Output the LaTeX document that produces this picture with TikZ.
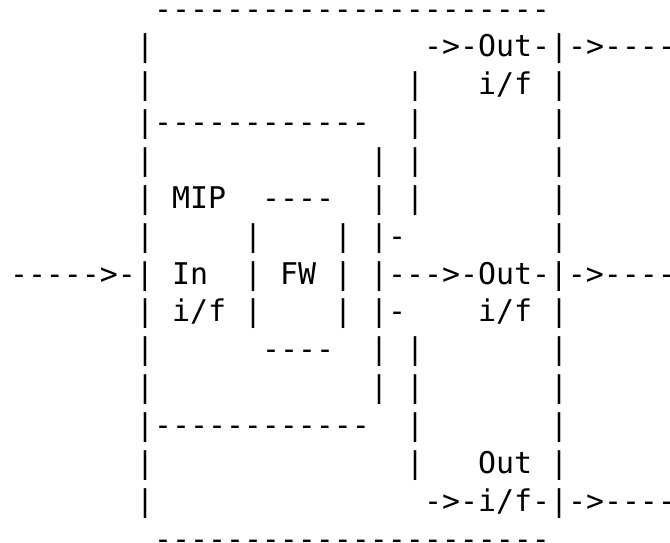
\documentclass[tikz,border=0pt]{standalone}
\usepackage{fontspec}
\setmonofont{DejaVu Sans Mono}
\tikzset{
  txt/.style={inner sep=0pt, outer sep=0pt, anchor=base west,
    font=\ttfamily\fontsize{29.9pt}{36pt}\selectfont, text=black}
}
\newcommand\seg[3]{\node[txt] (r#1c#2) at ({10+18*#2},{-(19+(#1-1)*37.86)}) {#3};}
\begin{document}
\begin{tikzpicture}[x=1pt,y=1pt]
\useasboundingbox (0,0) rectangle (670,-542);
\fill[white] (0,0) rectangle (670,-542);
% row 1
\seg{1}{8}{----------------------}
% row 2
\seg{2}{7}{|}\seg{2}{23}{->-Out-|->----}
% row 3
\seg{3}{7}{|}\seg{3}{22}{|}\seg{3}{26}{i/f}\seg{3}{30}{|}
% row 4
\seg{4}{7}{|------------}\seg{4}{22}{|}\seg{4}{30}{|}
% row 5
\seg{5}{7}{|}\seg{5}{20}{|}\seg{5}{22}{|}\seg{5}{30}{|}
% row 6
\seg{6}{7}{|}\seg{6}{9}{MIP}\seg{6}{14}{----}\seg{6}{20}{|}\seg{6}{22}{|}\seg{6}{30}{|}
% row 7
\seg{7}{7}{|}\seg{7}{13}{|}\seg{7}{18}{|}\seg{7}{20}{|-}\seg{7}{30}{|}
% row 8
\seg{8}{0}{----->-|}\seg{8}{9}{In}\seg{8}{13}{|}\seg{8}{15}{FW}\seg{8}{18}{|}\seg{8}{20}{|--->-Out-|->----}
% row 9
\seg{9}{7}{|}\seg{9}{9}{i/f}\seg{9}{13}{|}\seg{9}{18}{|}\seg{9}{20}{|-}\seg{9}{26}{i/f}\seg{9}{30}{|}
% row 10
\seg{10}{7}{|}\seg{10}{14}{----}\seg{10}{20}{|}\seg{10}{22}{|}\seg{10}{30}{|}
% row 11
\seg{11}{7}{|}\seg{11}{20}{|}\seg{11}{22}{|}\seg{11}{30}{|}
% row 12
\seg{12}{7}{|------------}\seg{12}{22}{|}\seg{12}{30}{|}
% row 13
\seg{13}{7}{|}\seg{13}{22}{|}\seg{13}{26}{Out}\seg{13}{30}{|}
% row 14
\seg{14}{7}{|}\seg{14}{23}{->-i/f-|->----}
% row 15
\seg{15}{8}{----------------------}
\end{tikzpicture}
\end{document}
